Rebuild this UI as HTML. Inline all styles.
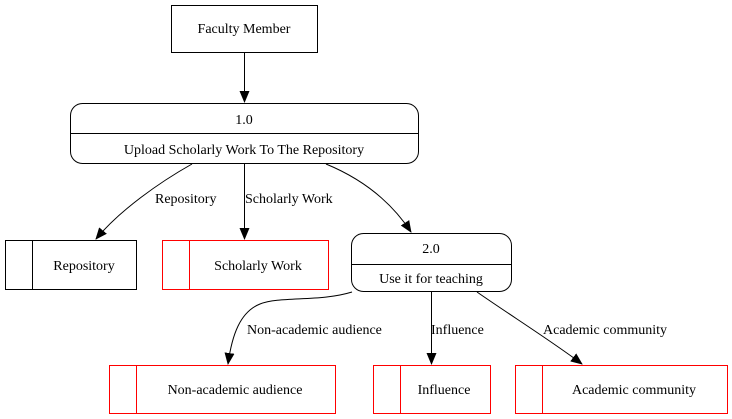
<!DOCTYPE html>
<html><head><style>body{margin:0;background:#fff}svg{display:block}svg text{font-family:"Liberation Serif","Times New Roman","DejaVu Serif",serif !important;font-size:14px}</style></head>
<body>
<svg width="732" height="419" viewBox="0 0 732 419" font-family="Liberation Serif, Times New Roman, DejaVu Serif, serif" font-size="14">
<defs><marker id="a" markerWidth="12" markerHeight="12" refX="11" refY="6" orient="auto" markerUnits="userSpaceOnUse"><path d="M0,1 L12,6 L0,11 Z" fill="#000"/></marker></defs>
<g fill="none" stroke="#000" stroke-width="1">
<rect x="171.5" y="5.5" width="146" height="47"/>
<rect x="70.5" y="103.5" width="348" height="60" rx="12"/>
<line x1="70.5" y1="133.5" x2="418.5" y2="133.5"/>
<rect x="5.5" y="240.5" width="131" height="49"/>
<line x1="32.5" y1="240.5" x2="32.5" y2="289.5"/>
<rect x="351.5" y="233.5" width="160" height="58" rx="12"/>
<line x1="351.5" y1="264.5" x2="511.5" y2="264.5"/>
<g stroke="#f00">
<rect x="162.5" y="240.5" width="166" height="49"/><line x1="189.5" y1="240.5" x2="189.5" y2="289.5"/>
<rect x="109.5" y="365.5" width="226" height="48"/><line x1="136.5" y1="365.5" x2="136.5" y2="413.5"/>
<rect x="373.5" y="365.5" width="117" height="48"/><line x1="400.5" y1="365.5" x2="400.5" y2="413.5"/>
<rect x="515.5" y="365.5" width="212" height="48"/><line x1="542.5" y1="365.5" x2="542.5" y2="413.5"/>
</g>
<path d="M244.5,52 L244.5,102" marker-end="url(#a)"/>
<path d="M192,164 C160,182 120,210 96,239" marker-end="url(#a)"/>
<path d="M244.5,164 L244.5,239" marker-end="url(#a)"/>
<path d="M326,164 C360,178 390,200 411,232" marker-end="url(#a)"/>
<path d="M352,292 C320,302 280,296 260,304 C240,312 232,335 228,364" marker-end="url(#a)"/>
<path d="M431.5,292 L431.5,364" marker-end="url(#a)"/>
<path d="M477,292 C510,315 550,340 582,364" marker-end="url(#a)"/>
</g>
<g text-anchor="middle">
<text x="244" y="33">Faculty Member</text>
<text x="244" y="124">1.0</text>
<text x="244" y="154">Upload Scholarly Work To The Repository</text>
<text x="84" y="270">Repository</text>
<text x="258" y="270">Scholarly Work</text>
<text x="431" y="253">2.0</text>
<text x="431" y="283">Use it for teaching</text>
<text x="235" y="394">Non-academic audience</text>
<text x="444" y="394">Influence</text>
<text x="634" y="394">Academic community</text>
</g>
<text x="155" y="203">Repository</text>
<text x="245" y="203">Scholarly Work</text>
<text x="247" y="334">Non-academic audience</text>
<text x="431" y="334">Influence</text>
<text x="543" y="334">Academic community</text>
</svg>
</body></html>
